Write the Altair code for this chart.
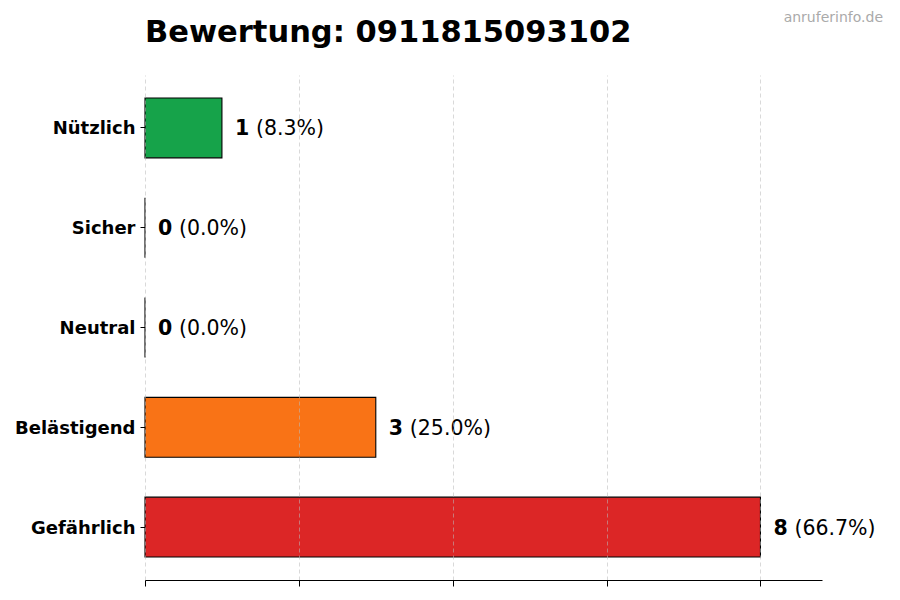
import altair as alt
import pandas as pd

categories = ["Nützlich", "Sicher", "Neutral", "Belästigend", "Gefährlich"]
counts = [1, 0, 0, 3, 8]
pct_labels = ["(8.3%)", "(0.0%)", "(0.0%)", "(25.0%)", "(66.7%)"]
colors = ["#16a34a", "#9ca3af", "#6b7280", "#f97316", "#dc2626"]
x_ticks = [0, 2, 4, 6, 8]
title_text = "Bewertung: 0911815093102"
watermark = "anruferinfo.de"

df = pd.DataFrame({
    "cat": categories,
    "count": counts,
    "pct": pct_labels,
    "color": colors,
})

W, H = 677, 505

y_enc = alt.Y("cat:N", sort=categories,
              scale=alt.Scale(paddingInner=0.4, paddingOuter=0.23),
              axis=alt.Axis(title=None, domain=False, ticks=True, tickSize=5,
                            tickColor="black", labelPadding=5, labelOffset=1.5,
                            labelFont="DejaVu Sans", labelFontWeight="bold",
                            labelFontSize=18, labelColor="black", grid=False))
x_enc = alt.X("count:Q", scale=alt.Scale(domain=[0, 8.8], nice=False, zero=True),
              axis=alt.Axis(title=None, values=x_ticks, labels=False, ticks=True,
                            tickSize=6, tickColor="black", domain=True,
                            domainColor="black", grid=True, gridDash=[4, 3],
                            gridColor="#bbbbbb", gridOpacity=0.7, gridWidth=0.8,
                            zindex=1))

base = alt.Chart(df)

bars = base.mark_bar(stroke="black", strokeWidth=1.1, opacity=1).encode(
    x=x_enc,
    y=y_enc,
    color=alt.Color("color:N", scale=None),
)

num = base.mark_text(align="left", baseline="middle", dx=13, dy=1.5, font="DejaVu Sans",
                     fontWeight="bold", fontSize=20.5, color="black").encode(
    x="count:Q", y=alt.Y("cat:N", sort=categories), text="count:N")

pct = base.mark_text(align="left", baseline="middle", dx=34, dy=1.5, font="DejaVu Sans",
                     fontSize=20.5, color="black").encode(
    x="count:Q", y=alt.Y("cat:N", sort=categories), text="pct:N")

wm = alt.Chart(pd.DataFrame({"t": [watermark]})).mark_text(
    align="right", baseline="alphabetic", font="DejaVu Sans",
    fontSize=14, color="#aaaaaa").encode(
    x=alt.value(738), y=alt.value(-53), text="t:N")

ttl = alt.Chart(pd.DataFrame({"t": [title_text]})).mark_text(
    align="left", baseline="alphabetic", font="DejaVu Sans",
    fontSize=30.5, fontWeight="bold", color="black").encode(
    x=alt.value(0), y=alt.value(-33), text="t:N")

chart = alt.layer(bars, num, pct, wm, ttl).properties(
    width=W, height=H,
    autosize=alt.AutoSizeParams(type="none"),
    padding={"left": 137, "top": 67, "right": 70, "bottom": 12},
).configure_view(stroke=None)

chart.save("out.html", embed_options={"renderer": "svg", "actions": False})
